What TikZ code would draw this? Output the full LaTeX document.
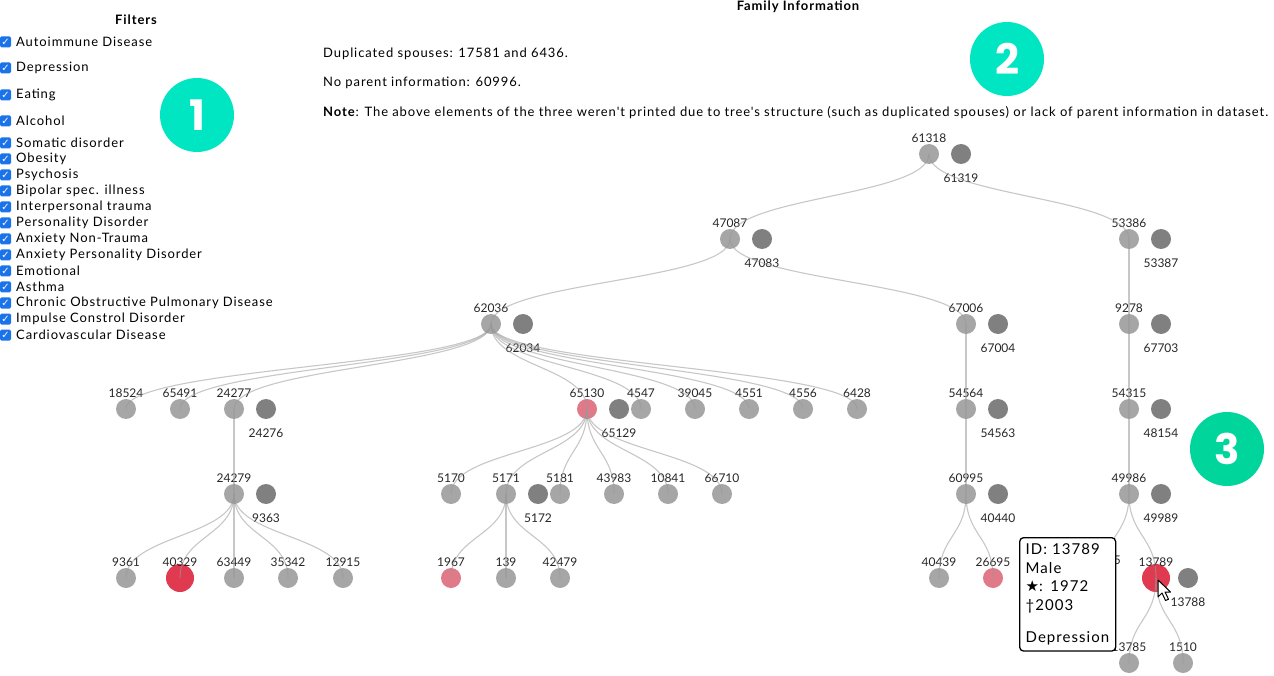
\documentclass[tikz,border=0pt]{standalone}
\usepackage{fontspec}
\setmainfont{Lato}
\newfontfamily\txtfont{Lato}[LetterSpace=7]
\newfontfamily\symfont{DejaVu Sans}
\newfontfamily\badgefont{Poppins}
\usetikzlibrary{calc}
\definecolor{persgray}{HTML}{A6A6A6}
\definecolor{spousegray}{HTML}{808080}
\definecolor{sickpink}{HTML}{E07A88}
\definecolor{sickred}{HTML}{E03A50}
\definecolor{badgeteal}{HTML}{00E6C3}
\definecolor{badgegreen}{HTML}{00D69C}
\definecolor{boxblue}{HTML}{1A73E8}
\tikzset{
  pers/.style={circle, fill=persgray, minimum size=20, inner sep=0},
  spouse/.style={circle, fill=spousegray, minimum size=20, inner sep=0},
  lbl/.style={font=\fontsize{12}{14}\selectfont, inner sep=1, text=black!85},
  slbl/.style={lbl, label distance=8},
  famlink/.style={draw=black!40, draw opacity=.55, line width=1.1,
    to path={.. controls ($(\tikztostart)!.5!(\tikztostart|-\tikztotarget)$) and ($(\tikztotarget)!.5!(\tikztotarget|-\tikztostart)$) .. (\tikztotarget)}},
  chk/.style={fill=boxblue, rounded corners=1.5, minimum size=11, inner sep=0, text=white, font=\symfont\fontsize{10}{10}\selectfont\bfseries},
  item/.style={anchor=west, inner sep=0, font=\txtfont\fontsize{13}{15}\selectfont},
  info/.style={anchor=west, inner sep=0, font=\txtfont\fontsize{13}{15}\selectfont},
  badge/.style={circle, minimum size=74, inner sep=0, text=white, font=\badgefont\bfseries\fontsize{42}{42}\selectfont}
}
\begin{document}
\begin{tikzpicture}[x=1pt,y=-1pt]
\useasboundingbox (0,0) rectangle (1274,676);
\node[font=\txtfont\fontsize{13}{15}\selectfont\bfseries, inner sep=0] (filters) at (136,20) {Filters};
\node[chk] (c1) at (5.5,42) {✓}; \node[item] (t1) at (16,42) {Autoimmune Disease};
\node[chk] (c2) at (5.5,68) {✓}; \node[item] (t2) at (16,68) {Depression};
\node[chk] (c3) at (5.5,95) {✓}; \node[item] (t3) at (16,95) {Eating};
\node[chk] (c4) at (5.5,121) {✓}; \node[item] (t4) at (16,121) {Alcohol};
\node[chk] (c5) at (5.5,143) {✓}; \node[item] (t5) at (16,143) {Somatic disorder};
\node[chk] (c6) at (5.5,159) {✓}; \node[item] (t6) at (16,159) {Obesity};
\node[chk] (c7) at (5.5,175) {✓}; \node[item] (t7) at (16,175) {Psychosis};
\node[chk] (c8) at (5.5,191) {✓}; \node[item] (t8) at (16,191) {Bipolar spec. illness};
\node[chk] (c9) at (5.5,207) {✓}; \node[item] (t9) at (16,207) {Interpersonal trauma};
\node[chk] (c10) at (5.5,223) {✓}; \node[item] (t10) at (16,223) {Personality Disorder};
\node[chk] (c11) at (5.5,239) {✓}; \node[item] (t11) at (16,239) {Anxiety Non-Trauma};
\node[chk] (c12) at (5.5,255) {✓}; \node[item] (t12) at (16,255) {Anxiety Personality Disorder};
\node[chk] (c13) at (5.5,271) {✓}; \node[item] (t13) at (16,271) {Emotional};
\node[chk] (c14) at (5.5,287) {✓}; \node[item] (t14) at (16,287) {Asthma};
\node[chk] (c15) at (5.5,303) {✓}; \node[item] (t15) at (16,303) {Chronic Obstructive Pulmonary Disease};
\node[chk] (c16) at (5.5,319) {✓}; \node[item] (t16) at (16,319) {Impulse Constrol Disorder};
\node[chk] (c17) at (5.5,335) {✓}; \node[item] (t17) at (16,335) {Cardiovascular Disease};
\node[badge, fill=badgeteal] (b1) at (197,115) {1};
\node[font=\txtfont\fontsize{13}{15}\selectfont\bfseries, inner sep=0] (famtitle) at (798,7) {Family Information};
\node[info] (dup) at (323,54) {Duplicated spouses: 17581 and 6436.};
\node[info] (nopar) at (323,83) {No parent information: 60996.};
\node[info] (note) at (323,113) {\textbf{Note}: The above elements of the three weren't printed due to tree's structure (such as duplicated spouses) or lack of parent information in dataset.};
\node[badge, fill=badgeteal] (b2) at (1007,59) {2};
\node[badge, fill=badgegreen] (b3) at (1227,449) {3};
\node[pers, label={[lbl]above:61318}] (n61318) at (929,154) {};
\node[spouse, label={[slbl]below:61319}] (s61319) at (961,154) {};
\node[pers, label={[lbl]above:47087}] (n47087) at (730,239) {};
\node[spouse, label={[slbl]below:47083}] (s47083) at (762,239) {};
\node[pers, label={[lbl]above:53386}] (n53386) at (1129,239) {};
\node[spouse, label={[slbl]below:53387}] (s53387) at (1161,239) {};
\node[pers, label={[lbl]above:62036}] (n62036) at (491,324) {};
\node[spouse, label={[slbl]below:62034}] (s62034) at (523,324) {};
\node[pers, label={[lbl]above:67006}] (n67006) at (966,324) {};
\node[spouse, label={[slbl]below:67004}] (s67004) at (998,324) {};
\node[pers, label={[lbl]above:9278}] (n9278) at (1129,324) {};
\node[spouse, label={[slbl]below:67703}] (s67703) at (1161,324) {};
\node[pers, label={[lbl]above:18524}] (n18524) at (126,409) {};
\node[pers, label={[lbl]above:65491}] (n65491) at (180,409) {};
\node[pers, label={[lbl]above:24277}] (n24277) at (234,409) {};
\node[spouse, label={[slbl]below:24276}] (s24276) at (266,409) {};
\node[pers, fill=sickpink, label={[lbl]above:65130}] (n65130) at (587,409) {};
\node[spouse, label={[slbl]below:65129}] (s65129) at (619,409) {};
\node[pers, label={[lbl]above:4547}] (n4547) at (641,409) {};
\node[pers, label={[lbl]above:39045}] (n39045) at (695,409) {};
\node[pers, label={[lbl]above:4551}] (n4551) at (749,409) {};
\node[pers, label={[lbl]above:4556}] (n4556) at (803,409) {};
\node[pers, label={[lbl]above:6428}] (n6428) at (857,409) {};
\node[pers, label={[lbl]above:54564}] (n54564) at (966,409) {};
\node[spouse, label={[slbl]below:54563}] (s54563) at (998,409) {};
\node[pers, label={[lbl]above:54315}] (n54315) at (1129,409) {};
\node[spouse, label={[slbl]below:48154}] (s48154) at (1161,409) {};
\node[pers, label={[lbl]above:24279}] (n24279) at (234,494) {};
\node[spouse, label={[slbl]below:9363}] (s9363) at (266,494) {};
\node[pers, label={[lbl]above:5170}] (n5170) at (451,494) {};
\node[pers, label={[lbl]above:5171}] (n5171) at (506,494) {};
\node[spouse, label={[slbl]below:5172}] (s5172) at (538,494) {};
\node[pers, label={[lbl]above:5181}] (n5181) at (560,494) {};
\node[pers, label={[lbl]above:43983}] (n43983) at (614,494) {};
\node[pers, label={[lbl]above:10841}] (n10841) at (668,494) {};
\node[pers, label={[lbl]above:66710}] (n66710) at (722,494) {};
\node[pers, label={[lbl]above:60995}] (n60995) at (966,494) {};
\node[spouse, label={[slbl]below:40440}] (s40440) at (998,494) {};
\node[pers, label={[lbl]above:49986}] (n49986) at (1129,494) {};
\node[spouse, label={[slbl]below:49989}] (s49989) at (1161,494) {};
\node[pers, label={[lbl]above:9361}] (n9361) at (126,578) {};
\node[pers, fill=sickred, minimum size=28, label={[lbl, label distance=-4]above:40329}] (n40329) at (180,578) {};
\node[pers, label={[lbl]above:63449}] (n63449) at (234,578) {};
\node[pers, label={[lbl]above:35342}] (n35342) at (288,578) {};
\node[pers, label={[lbl]above:12915}] (n12915) at (343,578) {};
\node[pers, fill=sickpink, label={[lbl]above:1967}] (n1967) at (451,578) {};
\node[pers, label={[lbl]above:139}] (n139) at (506,578) {};
\node[pers, label={[lbl]above:42479}] (n42479) at (560,578) {};
\node[pers, label={[lbl]above:40439}] (n40439) at (939,578) {};
\node[pers, fill=sickpink, label={[lbl]above:26695}] (n26695) at (993,578) {};
\node[pers] (nhid) at (1102,578) {};
\node[pers, fill=sickred, minimum size=28, label={[lbl, label distance=-4]above:13789}] (n13789) at (1156,578) {};
\node[spouse, label={[slbl]below:13788}] (s13788) at (1188,578) {};
\node[pers, label={[lbl]above:13785}] (n13785) at (1129,663) {};
\node[pers, label={[lbl]above:1510}] (n1510) at (1183,663) {};
\draw[famlink] (n61318.center) to (n47087.center);
\draw[famlink] (n61318.center) to (n53386.center);
\draw[famlink] (n47087.center) to (n62036.center);
\draw[famlink] (n47087.center) to (n67006.center);
\draw[famlink] (n53386.center) to (n9278.center);
\draw[famlink] (n62036.center) to (n18524.center);
\draw[famlink] (n62036.center) to (n65491.center);
\draw[famlink] (n62036.center) to (n24277.center);
\draw[famlink] (n62036.center) to (n65130.center);
\draw[famlink] (n62036.center) to (n4547.center);
\draw[famlink] (n62036.center) to (n39045.center);
\draw[famlink] (n62036.center) to (n4551.center);
\draw[famlink] (n62036.center) to (n4556.center);
\draw[famlink] (n62036.center) to (n6428.center);
\draw[famlink] (n67006.center) to (n54564.center);
\draw[famlink] (n9278.center) to (n54315.center);
\draw[famlink] (n24277.center) to (n24279.center);
\draw[famlink] (n65130.center) to (n5170.center);
\draw[famlink] (n65130.center) to (n5171.center);
\draw[famlink] (n65130.center) to (n5181.center);
\draw[famlink] (n65130.center) to (n43983.center);
\draw[famlink] (n65130.center) to (n10841.center);
\draw[famlink] (n65130.center) to (n66710.center);
\draw[famlink] (n54564.center) to (n60995.center);
\draw[famlink] (n54315.center) to (n49986.center);
\draw[famlink] (n24279.center) to (n9361.center);
\draw[famlink] (n24279.center) to (n40329.center);
\draw[famlink] (n24279.center) to (n63449.center);
\draw[famlink] (n24279.center) to (n35342.center);
\draw[famlink] (n24279.center) to (n12915.center);
\draw[famlink] (n5171.center) to (n1967.center);
\draw[famlink] (n5171.center) to (n139.center);
\draw[famlink] (n5171.center) to (n42479.center);
\draw[famlink] (n60995.center) to (n40439.center);
\draw[famlink] (n60995.center) to (n26695.center);
\draw[famlink] (n49986.center) to (nhid.center);
\draw[famlink] (n49986.center) to (n13789.center);
\draw[famlink] (n13789.center) to (n13785.center);
\draw[famlink] (n13789.center) to (n1510.center);
\node[lbl, anchor=east] (hidlbl) at (1122,560) {5};
\node[draw, fill=white, rounded corners=4, line width=1.3, anchor=north west, align=left, text width=84, inner sep=6, font=\txtfont\fontsize{15}{18.5}\selectfont] (tip) at (1019,537) {ID: 13789\\Male\\{\symfont ★}: 1972\\†2003\\[14pt]Depression};
\coordinate (mouse) at (1158,580);
\draw[fill=white, line width=1, line join=round] (mouse) -- ++(0,17) -- ++(4,-4) -- ++(3.5,7.5) -- ++(3,-1.3) -- ++(-3.5,-7.2) -- ++(5.5,0) -- cycle;
\end{tikzpicture}
\end{document}
